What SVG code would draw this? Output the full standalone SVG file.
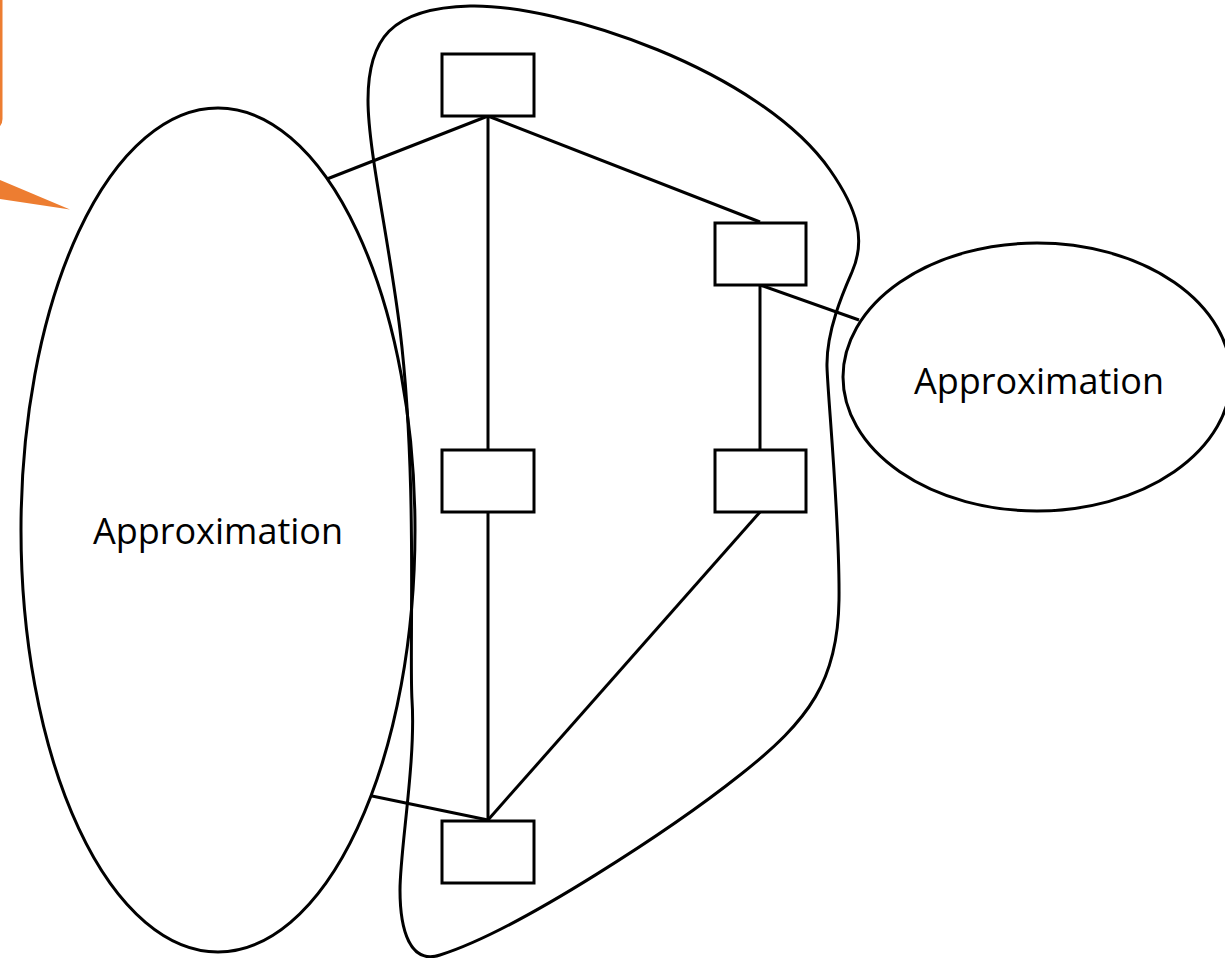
<svg xmlns="http://www.w3.org/2000/svg" width="1225" height="958" viewBox="0 0 1225 958">
  <style>
    .edge { stroke: #000; stroke-width: 3; fill: none; }
    .box { fill: #fff; stroke: #000; stroke-width: 3; }
    .cluster { fill: none; stroke: #000; stroke-width: 3; }
    .label { font-family: "Open Sans", "Liberation Sans", sans-serif; font-size: 36px; fill: #000; text-anchor: middle; }
    .callout { stroke: #ED7D31; stroke-width: 3; fill: none; }
  </style>

  <!-- orange callout, mostly beyond the left border -->
  <g id="callout">
    <rect class="callout" x="-200" y="-100" width="201" height="229" rx="10"/>
    <polygon points="0,180 70,209.5 0,199" fill="#ED7D31"/>
  </g>

  <!-- approximation regions -->
  <g id="approx-left">
    <ellipse class="cluster" cx="218" cy="530" rx="197" ry="422"/>
    <text class="label" x="218" y="544">Approximation</text>
  </g>
  <g id="approx-right">
    <ellipse class="cluster" cx="1037" cy="377" rx="194" ry="134"/>
    <text class="label" x="1039" y="394">Approximation</text>
  </g>

  <!-- free-form boundary around the graph -->
  <g id="boundary">
    <path class="cluster" d="M 470,6
      C 560,4 760,70 830,170
      C 858,210 866,240 852,272
      C 845,288 826,330 827,367
      C 828,400 840,520 839,600
      C 838,680 810,720 740,775
      C 677,825 520,930 440,955
      C 410,965 400,930 400,890
      C 400,850 416,760 412,700
      C 409,650 418,480 400,330
      C 389,240 368,150 368,100
      C 368,40 390,8 470,6 Z"/>
  </g>

  <!-- connectors -->
  <g id="connectors">
    <line class="edge" x1="488" y1="116" x2="327" y2="179"/>
    <line class="edge" x1="488" y1="116" x2="488" y2="449"/>
    <line class="edge" x1="488" y1="116" x2="760" y2="222"/>
    <line class="edge" x1="760" y1="285" x2="760" y2="449"/>
    <line class="edge" x1="760" y1="285" x2="859" y2="320"/>
    <line class="edge" x1="488" y1="512" x2="488" y2="820"/>
    <line class="edge" x1="760" y1="512" x2="488" y2="820"/>
    <line class="edge" x1="372" y1="796" x2="488" y2="820"/>
  </g>

  <!-- nodes -->
  <g id="n1"><rect class="box" x="442" y="54" width="92" height="62"/></g>
  <g id="n2"><rect class="box" x="715" y="223" width="91" height="62"/></g>
  <g id="n3"><rect class="box" x="442" y="450" width="92" height="62"/></g>
  <g id="n4"><rect class="box" x="715" y="450" width="91" height="62"/></g>
  <g id="n5"><rect class="box" x="442" y="821" width="92" height="62"/></g>
</svg>
